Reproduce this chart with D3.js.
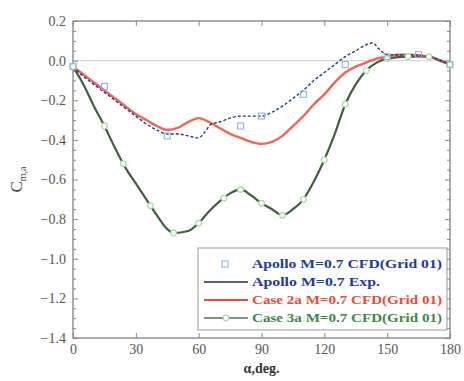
<!DOCTYPE html>
<html>
<head>
<meta charset="utf-8">
<script src="https://cdn.jsdelivr.net/npm/d3@7"></script>
<style>
  body { margin: 0; background: #fff; }
  svg text { font-family: "Liberation Serif", "Times New Roman", Times, serif; }
</style>
</head>
<body>
<div class="chart"></div>
<script>
// ------------------------------------------------------------------------------------------------------------------
// Data
var alpha_exp   = [0, 5, 10, 15, 20, 25, 30, 35, 40, 45, 50, 55, 60, 63, 66, 70, 75, 80, 85, 90, 95, 100, 105, 110, 115, 120, 125, 130, 135, 140, 143, 146, 150, 155, 160, 170, 180];
var cma_exp     = [-0.03, -0.08, -0.12, -0.16, -0.20, -0.24, -0.28, -0.32, -0.35, -0.37, -0.37, -0.38, -0.39, -0.36, -0.32, -0.31, -0.29, -0.28, -0.28, -0.28, -0.26, -0.23, -0.19, -0.15, -0.10, -0.06, -0.02, 0.02, 0.05, 0.08, 0.09, 0.06, 0.03, 0.03, 0.03, 0.02, -0.02];

var alpha_cfd   = [0, 15, 45, 80, 90, 110, 130, 150, 165, 180];
var cma_cfd     = [-0.03, -0.13, -0.38, -0.33, -0.28, -0.17, -0.02, 0.02, 0.03, -0.02];

var alpha_case2 = [0, 5, 10, 15, 20, 25, 30, 35, 40, 45, 50, 55, 60, 65, 70, 75, 80, 85, 90, 95, 100, 105, 110, 115, 120, 125, 130, 135, 140, 145, 150, 155, 160, 170, 180];
var cma_case2   = [-0.03, -0.07, -0.11, -0.15, -0.19, -0.23, -0.27, -0.30, -0.33, -0.35, -0.34, -0.31, -0.29, -0.31, -0.34, -0.37, -0.39, -0.41, -0.42, -0.41, -0.38, -0.33, -0.28, -0.22, -0.17, -0.11, -0.06, -0.03, -0.01, 0.01, 0.02, 0.03, 0.03, 0.02, -0.02];

var alpha_case3 = [0, 5, 10, 15, 20, 25, 30, 35, 40, 45, 48, 55, 60, 65, 70, 75, 80, 85, 90, 95, 100, 105, 110, 115, 120, 125, 130, 135, 140, 145, 150, 160, 170, 175, 180];
var cma_case3   = [-0.03, -0.12, -0.23, -0.33, -0.44, -0.54, -0.62, -0.70, -0.78, -0.85, -0.87, -0.86, -0.82, -0.76, -0.71, -0.67, -0.65, -0.68, -0.72, -0.75, -0.78, -0.75, -0.70, -0.61, -0.50, -0.37, -0.22, -0.12, -0.05, -0.01, 0.01, 0.02, 0.02, 0.0, -0.02];
var alpha_case3_mk = [0, 15, 24, 37, 48, 60, 72, 80, 90, 100, 110, 120, 130, 140, 150, 160, 170, 180];

var x_ticks = [0, 30, 60, 90, 120, 150, 180];
var y_ticks = [0.2, 0.0, -0.2, -0.4, -0.6, -0.8, -1.0, -1.2, -1.4];

var legend_labels = ["Apollo M=0.7 CFD(Grid 01)", "Apollo M=0.7 Exp.", "Case 2a M=0.7 CFD(Grid 01)", "Case 3a M=0.7 CFD(Grid 01)"];

// ------------------------------------------------------------------------------------------------------------------
// Global var
var width = 464, height = 381;
var margin = {left: 73, right: 14, top: 21, bottom: 43};
var c_blue_light = "#8fb4e2", c_blue = "#1d3b9c", c_red = "#ee4a32", c_green = "#3c8a3c", c_green_light = "#a8dca0";

var svg = d3.select(".chart").append("svg")
  .attr("width", width)
  .attr("height", height);

var x = d3.scaleLinear().domain([0, 180]).range([margin.left, width - margin.right]);
var y = d3.scaleLinear().domain([-1.4, 0.2]).range([height - margin.bottom, margin.top]);

// ------------------------------------------------------------------------------------------------------------------
// zero line + frame
svg.append("line")
  .attr("x1", x(0)).attr("x2", x(180))
  .attr("y1", y(0)).attr("y2", y(0))
  .attr("stroke", "#d8d8d8").attr("stroke-width", 1.2);

svg.append("rect")
  .attr("x", x(0)).attr("y", y(0.2))
  .attr("width", x(180) - x(0)).attr("height", y(-1.4) - y(0.2))
  .attr("fill", "none").attr("stroke", "#777").attr("stroke-width", 1.2);

// axes, ticks inward
var axis_style = function(g) {
  g.attr("font-family", null);
  g.select(".domain").remove();
  g.selectAll(".tick line").attr("stroke", "#888");
  g.selectAll(".tick text").attr("fill", "#555").style("font-size", "14px");
};
svg.append("g").attr("transform", "translate(0," + y(-1.4) + ")")
  .call(d3.axisBottom(x).tickValues(x_ticks).tickSize(-5).tickPadding(6).tickFormat(d3.format("d")))
  .call(axis_style);
svg.append("g").attr("transform", "translate(0," + y(0.2) + ")")
  .call(d3.axisTop(x).tickValues(x_ticks).tickSize(-5).tickFormat(""))
  .call(axis_style);
svg.append("g").attr("transform", "translate(" + x(0) + ",0)")
  .call(d3.axisLeft(y).tickValues(y_ticks).tickSize(-5).tickPadding(7).tickFormat(d3.format(".1f")))
  .call(axis_style);
svg.append("g").attr("transform", "translate(" + x(180) + ",0)")
  .call(d3.axisRight(y).tickValues(y_ticks).tickSize(-5).tickFormat(""))
  .call(axis_style);
// minor ticks on y
var y_minor = d3.range(-1.4, 0.2001, 0.05).filter(function(v) { return Math.abs(Math.round(v * 5) - v * 5) > 0.01; });
svg.append("g").attr("transform", "translate(" + x(0) + ",0)")
  .call(d3.axisLeft(y).tickValues(y_minor).tickSize(-3).tickFormat(""))
  .call(axis_style);
svg.append("g").attr("transform", "translate(" + x(180) + ",0)")
  .call(d3.axisRight(y).tickValues(y_minor).tickSize(-3).tickFormat(""))
  .call(axis_style);

// axis titles
svg.append("text")
  .attr("x", x(90)).attr("y", 373)
  .attr("text-anchor", "middle")
  .style("font-size", "14px").style("font-weight", "bold").attr("fill", "#333")
  .text("\u03b1,deg.");
var ylab = svg.append("text")
  .attr("transform", "translate(22," + y(-0.6) + ") rotate(-90)")
  .attr("text-anchor", "middle")
  .style("font-size", "17px").attr("fill", "#444");
ylab.append("tspan").text("C");
ylab.append("tspan").attr("dy", 4).style("font-size", "10px").text("m,a");

// ------------------------------------------------------------------------------------------------------------------
// curves
var line = d3.line()
  .x(function(d) { return x(d[0]); })
  .y(function(d) { return y(d[1]); })
  .curve(d3.curveMonotoneX);

function pairs(xs, ys) { return xs.map(function(v, i) { return [v, ys[i]]; }); }
var case3 = pairs(alpha_case3, cma_case3);
var case3_at = function(a) {
  var i = d3.bisector(function(d) { return d[0]; }).left(case3, a);
  if (i <= 0) return case3[0][1];
  var p0 = case3[i - 1], p1 = case3[i];
  if (p1[0] === a) return p1[1];
  return p0[1] + (p1[1] - p0[1]) * (a - p0[0]) / (p1[0] - p0[0]);
};

svg.append("path").attr("d", line(case3))
  .attr("fill", "none").attr("stroke", "#3f5f3f").attr("stroke-width", 2.2);
svg.append("path").attr("d", line(pairs(alpha_case2, cma_case2)))
  .attr("fill", "none").attr("stroke", c_red).attr("stroke-width", 2.4).attr("stroke-opacity", 0.85);
svg.append("path").attr("d", line(pairs(alpha_exp, cma_exp)))
  .attr("fill", "none").attr("stroke", c_blue).attr("stroke-width", 1.4).attr("stroke-dasharray", "3,2");

svg.selectAll(".mk3").data(alpha_case3_mk).enter().append("circle")
  .attr("cx", function(d) { return x(d); })
  .attr("cy", function(d) { return y(case3_at(d)); })
  .attr("r", 2.8)
  .attr("fill", "#fff").attr("stroke", c_green_light).attr("stroke-width", 1.2);

svg.selectAll(".mkc").data(pairs(alpha_cfd, cma_cfd)).enter().append("rect")
  .attr("x", function(d) { return x(d[0]) - 3; })
  .attr("y", function(d) { return y(d[1]) - 3; })
  .attr("width", 6).attr("height", 6)
  .attr("fill", "none").attr("stroke", c_blue_light).attr("stroke-width", 1.1);

// ------------------------------------------------------------------------------------------------------------------
// legend
var lg = svg.append("g").attr("transform", "translate(198,248)");
lg.append("rect").attr("width", 249).attr("height", 82)
  .attr("fill", "#fff").attr("stroke", "#999").attr("stroke-width", 1);
var lcol = [c_blue, c_blue, c_red, c_green];
legend_labels.forEach(function(lab, i) {
  var yy = 16 + i * 18;
  if (i === 0) {
    lg.append("rect").attr("x", 24).attr("y", yy - 3).attr("width", 6).attr("height", 6)
      .attr("fill", "none").attr("stroke", c_blue_light).attr("stroke-width", 1.1);
  } else {
    var col = i === 1 ? "#1a2a6a" : (i === 2 ? c_red : "#4a7a4a");
    lg.append("line").attr("x1", 6).attr("x2", 50).attr("y1", yy).attr("y2", yy)
      .attr("stroke", col).attr("stroke-width", i === 2 ? 2.2 : 1.6);
    if (i === 3) {
      lg.append("circle").attr("cx", 28).attr("cy", yy).attr("r", 2.8)
        .attr("fill", "#fff").attr("stroke", c_green_light).attr("stroke-width", 1.2);
    }
  }
  lg.append("text").attr("x", 54).attr("y", yy + 4)
    .style("font-size", "12px").style("font-weight", "bold")
    .attr("fill", lcol[i])
    .attr("textLength", i === 1 ? 128 : 190).attr("lengthAdjust", "spacingAndGlyphs")
    .text(lab);
});
</script>
</body>
</html>
